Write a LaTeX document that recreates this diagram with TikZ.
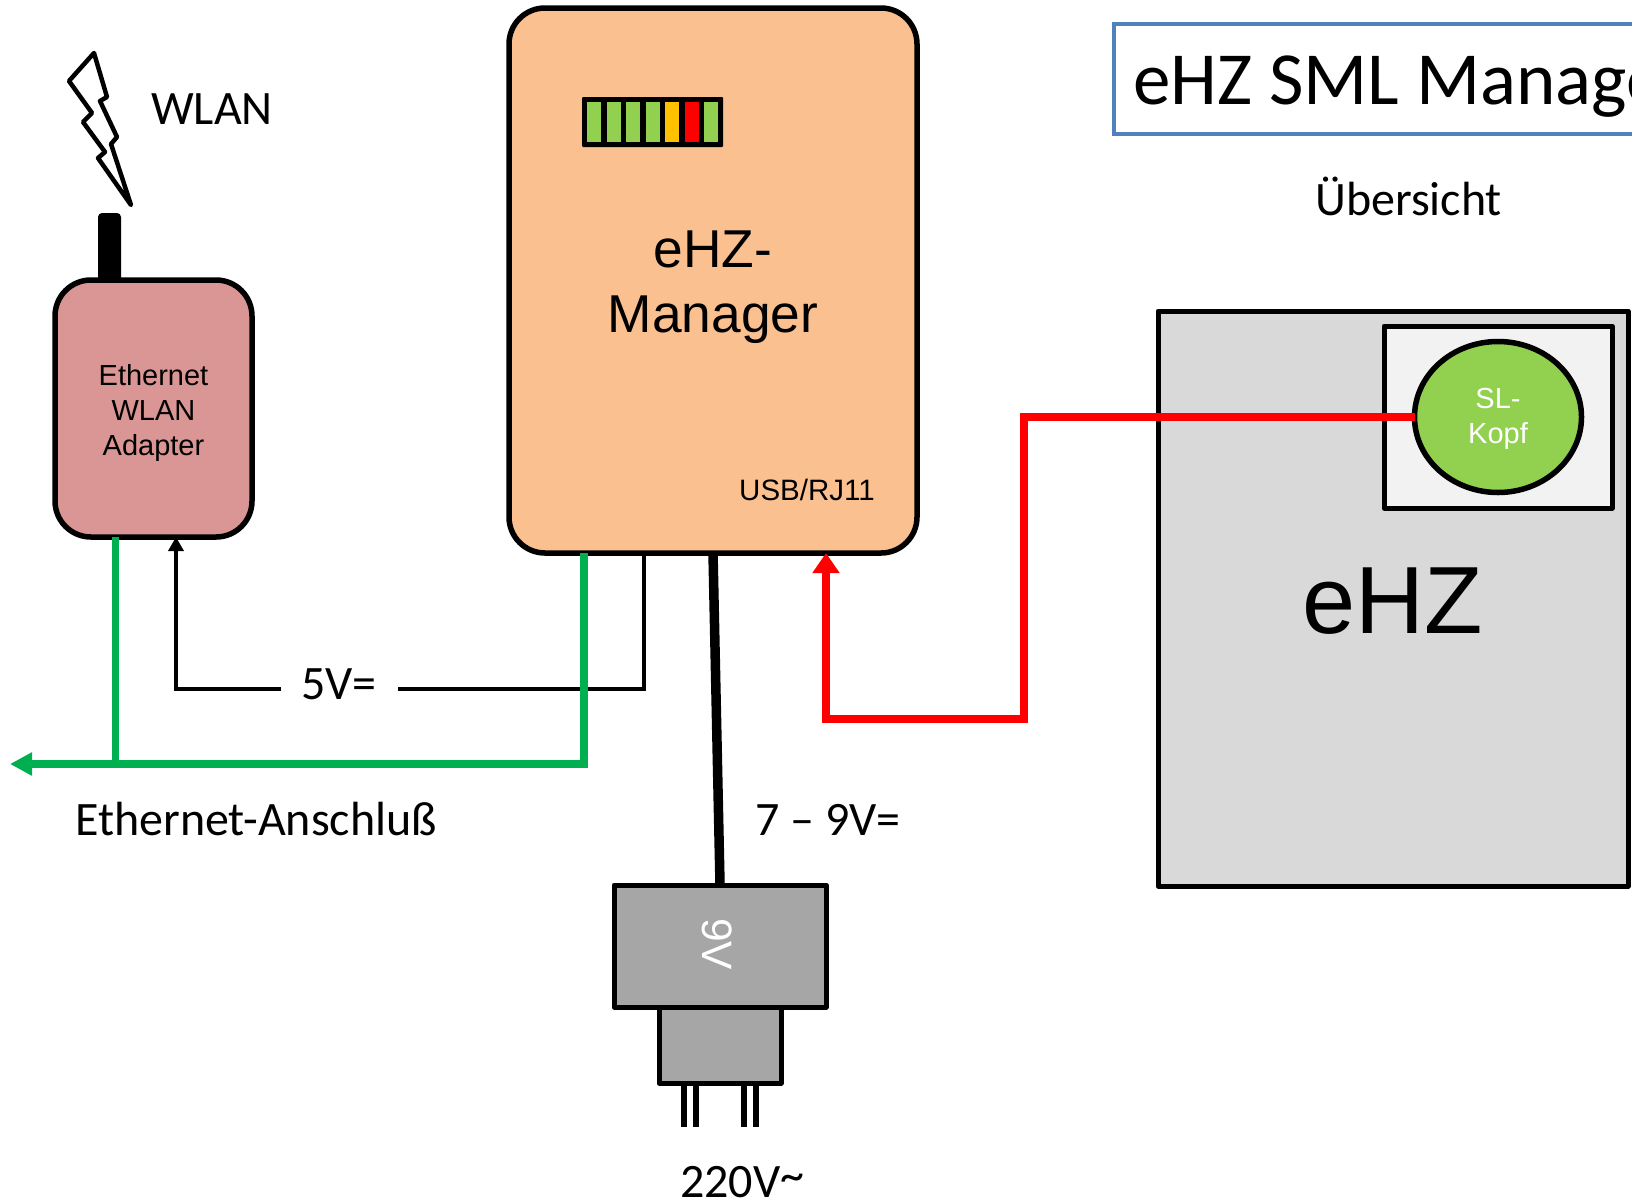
\documentclass[tikz,border=0pt]{standalone}
\usepackage{fontspec}
\setmainfont{Liberation Sans}
\newfontfamily\carlito{Carlito}
\usetikzlibrary{arrows.meta,positioning,shapes.geometric}
\definecolor{mgrorange}{HTML}{FAC090}
\definecolor{adapterrose}{HTML}{D99694}
\definecolor{metergray}{HTML}{D9D9D9}
\definecolor{slotgray}{HTML}{F2F2F2}
\definecolor{plusgray}{HTML}{A6A6A6}
\definecolor{ledgreen}{HTML}{92D050}
\definecolor{ledyellow}{HTML}{FFC000}
\definecolor{netgreen}{HTML}{00B050}
\definecolor{titleblue}{HTML}{4F81BD}
\tikzstyle{device}=[rectangle,rounded corners=36pt,draw=black,line width=5.5pt,outer sep=0pt,inner sep=0pt]
\tikzstyle{housing}=[rectangle,draw=black,line width=5pt,line join=round,outer sep=0pt,inner sep=0pt]
\tikzstyle{led}=[rectangle,inner sep=0pt,outer sep=0pt,minimum width=14pt,minimum height=40pt]
\tikzstyle{pin}=[rectangle,fill=black,inner sep=0pt,outer sep=0pt,minimum width=6pt,minimum height=44pt]
\tikzstyle{caption}=[font=\carlito\fontsize{48}{58}\selectfont,anchor=base west,inner sep=0pt]
\tikzstyle{small}=[font=\fontsize{29}{35}\selectfont,align=center,inner sep=0pt]
\tikzstyle{netline}=[draw=netgreen,line width=7.5pt,line join=miter]
\tikzstyle{sense}=[draw=red,line width=7.5pt,line join=miter,-{Triangle[length=20pt,width=26pt]}]
\tikzstyle{supply}=[draw=black,line width=3.5pt]
\begin{document}
\begin{tikzpicture}[x=1pt,y=-1pt]
    \useasboundingbox (0,0) rectangle (1632,1203);
    \clip (0,0) rectangle (1632,1203);

    % Geraete
    \node[device, fill=mgrorange, minimum width=408pt, minimum height=545pt, anchor=north west] (manager) at (509,8) {};
    \node[device, fill=adapterrose, minimum width=197pt, minimum height=257pt] (adapter) [below left=272pt and 257pt of manager.north west] {};
    \node[housing, fill=metergray, minimum width=470pt, minimum height=575pt] (ehz) [below right=303pt and 241pt of manager.north east] {};
    \node[housing, fill=slotgray, minimum width=228pt, minimum height=182pt] (slot) [below left=15pt and 16pt of ehz.north east] {};
    \node[ellipse, draw=black, line width=5.5pt, fill=ledgreen, minimum width=167pt, minimum height=151pt, inner sep=0pt, outer sep=0pt] (kopf) at (slot) {};
    \node[white, font=\fontsize{29}{35}\selectfont, align=center, inner sep=0pt] (kopftext) [below=2pt of kopf.center, anchor=center] {SL-\\Kopf};
    \node[housing, fill=plusgray, minimum width=212pt, minimum height=122pt] (charger) [below=332pt of manager.south, xshift=7pt] {};
    \node[housing, fill=plusgray, minimum width=122pt, minimum height=76pt] (plug) [below=0pt of charger.south] {};

    % Stifte
    \foreach \n/\dx in {1/-36pt,2/-24pt,3/24pt,4/36pt}
      \node[pin] (pin\n) [below=0pt of plug.south, xshift=\dx] {};

    % Antenne und Blitz
    \node[rectangle, fill=black, rounded corners=4pt, minimum width=23pt, minimum height=69pt, inner sep=0pt, outer sep=0pt] (antenna) [above=-2pt of adapter.north, xshift=-44pt] {};
    \draw[black, line width=4.5pt, line join=round, fill=white] (94,53) -- (107,97) -- (100,101) -- (117,137) -- (111,144) -- (131,205) -- (98,158) -- (105,152) -- (83,122) -- (92,113) -- (69,81) -- cycle;

    % Anzeige
    \node[rectangle, fill=black, rounded corners=1pt, minimum width=141pt, minimum height=50pt, inner sep=0pt, outer sep=0pt] (ledbar) [below right=89pt and 73pt of manager.north west] {};
    \foreach \n/\dx/\c in {1/5pt/ledgreen,2/24.5pt/ledgreen,3/44pt/ledgreen,4/63.5pt/ledgreen,5/83pt/ledyellow,6/102.5pt/red,7/122pt/ledgreen}
      \node[led, fill=\c] (led\n) [below right=5pt and \dx of ledbar.north west] {};

    % Titel
    \node[rectangle, draw=titleblue, line width=3.5pt, fill=white, minimum width=640pt, minimum height=110pt, inner sep=0pt, outer sep=0pt, anchor=north west] (titlebox) at (1114,24) {};
    \node[font=\carlito\fontsize{75}{90}\selectfont, anchor=base west, inner sep=0pt] (title) at (1133,104) {eHZ SML Manager};
    \node[caption] (overview) at (1315,215) {Übersicht};

    % Beschriftung
    \node[caption] (wlan) at (151,124) {WLAN};
    \node[caption] (five) at (301,699) {5V=};
    \node[caption] (ethport) at (75,835) {Ethernet-Anschluß};
    \node[caption] (seven) at (755,835) {7 – 9V=};
    \node[caption] (mains) at (680,1197) {220V\raisebox{6pt}{\textasciitilde}};
    \node[small] (adaptertext) at (adapter) [yshift=-4pt] {Ethernet\\WLAN\\Adapter};
    \node[font=\fontsize{53.3}{65}\selectfont, align=center, inner sep=0pt] (mgrtext) [below=223pt of manager.north] {eHZ-\\Manager};
    \node[font=\fontsize{29.5}{35}\selectfont, inner sep=0pt] (usb) at (807,490) {USB/RJ11};
    \node[font=\fontsize{95.5}{115}\selectfont, inner sep=0pt] (ehztext) at (1393,601) {eHZ};
    \node[white, font=\fontsize{42.5}{51}\selectfont, rotate=-90, inner sep=0pt] (ninev) at (charger) [yshift=-3pt, xshift=-2pt] {9V};

    % Anschluesse
    \coordinate (fivestart) at (644,553);
    \coordinate (fiveright) at (398,689);
    \coordinate (fiveleft) at (281,689);
    \coordinate (fiveend) at (176,537);
    \coordinate (portA) at (115.5,537);
    \coordinate (portB) at (584,553);
    \coordinate (lanend) at (10,764);
    \coordinate (powerstart) at (713,553);
    \coordinate (powerend) at (720,884);
    \coordinate (usbend) at (826,553);

    \draw[supply] (fivestart) |- (fiveright);
    \draw[supply, -{Triangle[length=14pt,width=15pt]}] (fiveleft) -| (fiveend);
    \draw[netline, -{Triangle[length=22pt,width=22pt]}] (portB) |- (lanend);
    \draw[netline] (portA) -- (portA |- lanend);
    \draw[black, line width=9.5pt] (powerstart) -- (powerend);
    \draw[sense] (kopf.west) -| (1024,719) -| (usbend);

\end{tikzpicture}
\end{document}
